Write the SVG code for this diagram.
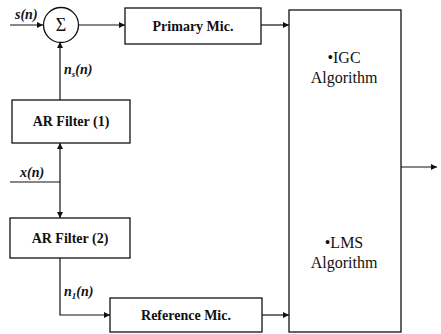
<svg xmlns="http://www.w3.org/2000/svg" width="441" height="334" viewBox="0 0 441 334">
<style>
.box{fill:#fff;stroke:#111;stroke-width:1.3}
.ln{fill:none;stroke:#111;stroke-width:1.2}
.lbl{font-family:"Liberation Serif","DejaVu Serif","Times New Roman",serif;font-weight:bold;font-size:14px;fill:#111;text-anchor:middle}
.alg{font-family:"Liberation Serif","DejaVu Serif","Times New Roman",serif;font-size:16px;fill:#111;text-anchor:middle}
.math{font-family:"Liberation Serif","DejaVu Serif","Times New Roman",serif;font-style:italic;font-weight:bold;font-size:14px;fill:#111}
.sig{font-family:"Liberation Serif","DejaVu Serif","Times New Roman",serif;font-size:18px;fill:#111;text-anchor:middle}
</style>
<defs>
<marker id="ah" viewBox="0 0 10 10" refX="10" refY="5" markerWidth="7" markerHeight="6" markerUnits="userSpaceOnUse" orient="auto">
<path d="M0,0 L10,5 L0,10 z" fill="#111"/>
</marker>
</defs>
<g id="connectors">
<line class="ln" x1="10" y1="25" x2="43" y2="25" marker-end="url(#ah)"/>
<line class="ln" x1="78" y1="25" x2="125" y2="25" marker-end="url(#ah)"/>
<line class="ln" x1="261" y1="25" x2="289" y2="25" marker-end="url(#ah)"/>
<line class="ln" x1="60" y1="100" x2="60" y2="42" marker-end="url(#ah)"/>
<line class="ln" x1="60" y1="182" x2="60" y2="143" marker-end="url(#ah)"/>
<line class="ln" x1="60" y1="182" x2="60" y2="218" marker-end="url(#ah)"/>
<line class="ln" x1="10" y1="182" x2="60" y2="182"/>
<polyline class="ln" points="60,258 60,315 110,315" marker-end="url(#ah)"/>
<line class="ln" x1="262" y1="315" x2="289" y2="315" marker-end="url(#ah)"/>
<line class="ln" x1="401" y1="167" x2="437" y2="167" marker-end="url(#ah)"/>
<text class="math" x="15" y="19">s(n)</text>
<text class="math" x="64" y="74">n<tspan font-size="9" dy="3">s</tspan><tspan dy="-3">(n)</tspan></text>
<text class="math" x="20" y="177">x(n)</text>
<text class="math" x="64" y="296">n<tspan font-size="9" dy="3">1</tspan><tspan dy="-3">(n)</tspan></text>
</g>
<g id="sum">
<circle cx="61" cy="25" r="17.5" fill="#fff" stroke="#111" stroke-width="1.3"/>
<text class="sig" x="61" y="31">Σ</text>
</g>
<g id="primary">
<rect class="box" x="125" y="8" width="136" height="36"/>
<text class="lbl" x="193" y="31">Primary Mic.</text>
</g>
<g id="ar1">
<rect class="box" x="12" y="100" width="118" height="43"/>
<text class="lbl" x="71" y="126">AR Filter (1)</text>
</g>
<g id="ar2">
<rect class="box" x="10" y="218" width="120" height="40"/>
<text class="lbl" x="70" y="243">AR Filter (2)</text>
</g>
<g id="reference">
<rect class="box" x="110" y="298" width="152" height="34"/>
<text class="lbl" x="186" y="320">Reference Mic.</text>
</g>
<g id="algorithm">
<rect class="box" x="289" y="10" width="112" height="322"/>
<text class="alg" x="344" y="63">•IGC</text>
<text class="alg" x="344" y="83">Algorithm</text>
<text class="alg" x="344" y="248">•LMS</text>
<text class="alg" x="344" y="268">Algorithm</text>
</g>
</svg>
